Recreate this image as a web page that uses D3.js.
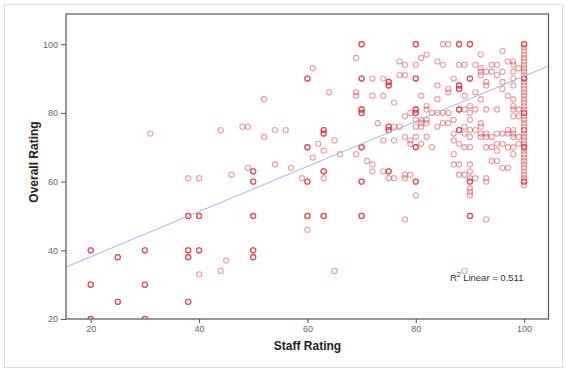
<!DOCTYPE html>
<html>
<head>
<meta charset="utf-8">
<script src="https://cdn.jsdelivr.net/npm/d3@7"></script>
<style>
  body { margin: 0; background: #fff; }
  svg { display: block; font-family: "Liberation Sans", Arial, sans-serif; }
</style>
</head>
<body>
<svg id="chart" width="567" height="372"></svg>
<script>
// tick values on both axes
var xTicks = [20, 40, 60, 80, 100];
var yTicks = [20, 40, 60, 80, 100];

// [staff rating, overall rating, how many respondents on that spot]
var responses = [
    [20,40,3],[20,30,3],[20,20,3],
    [25,38,3],[25,25,3],
    [30,40,3],[30,30,3],[30,20,3],[31,74,1],
    [38,61,1],[38,50,3],[38,40,3],[38,38,3],[38,25,3],
    [40,61,1],[40,50,3],[40,40,3],[40,33,1],
    [44,75,1],[44,34,1],[45,37,1],[46,62,1],[48,76,1],[49,76,1],[49,64,1],
    [50,63,3],[50,60,3],[50,50,3],[50,40,3],[50,38,3],
    [52,84,1],[52,73,1],[54,75,1],[54,65,1],[56,75,1],[57,64,1],[59,61,1],
    [60,90,3],[60,70,3],[60,60,3],[60,50,3],[60,46,1],
    [61,93,1],[61,67,1],[62,71,1],
    [63,75,3],[63,74,3],[63,69,1],[63,63,3],[63,61,1],[63,50,3],
    [64,86,1],[65,72,1],[65,34,1],[66,68,1],[69,68,1],[69,96,1],[69,86,1],[69,85,1],
    [70,100,3],[70,90,3],[70,81,3],[70,80,3],[70,70,3],[70,60,3],[70,50,3],
    [71,66,1],[72,65,1],[72,90,1],[74,90,1],[72,85,1],[74,85,1],[73,77,1],[74,72,1],
    [76,72,1],[72,63,1],[74,63,1],
    [75,89,3],[75,88,3],[75,76,3],[75,75,3],[75,63,3],[75,61,1],[76,61,1],[76,83,1],
    [77,95,1],[77,91,1],[78,91,1],[78,94,1],[76,76,1],[77,76,1],[78,79,1],[79,80,1],
    [78,73,1],[79,72,1],[79,71,1],[78,62,1],[79,62,1],[78,61,1],[78,49,1],
    [80,100,3],[80,94,1],[80,90,3],[80,81,3],[80,80,3],[80,78,1],[80,76,1],[80,73,1],
    [80,70,3],[80,60,3],[80,56,1],
    [81,96,1],[82,97,1],[81,85,1],[82,82,1],[82,81,1],[81,78,1],[82,78,1],[81,77,1],
    [82,77,1],[81,76,1],[81,71,1],[82,73,1],[83,80,1],[84,80,1],[83,70,1],
    [84,95,1],[85,94,1],[84,88,1],[84,84,1],[85,77,1],[86,77,1],[84,76,1],[85,80,1],[86,80,1],
    [85,100,1],[86,100,1],[86,87,1],[86,86,1],[87,90,1],[87,78,1],[87,74,1],[87,72,1],
    [87,68,1],[87,65,1],
    [88,100,3],[88,94,1],[89,94,1],[88,88,3],[88,87,3],[89,85,1],[88,81,3],[89,81,1],
    [88,75,3],[89,76,1],[89,74,1],[88,71,1],[89,70,1],[88,65,1],[88,62,1],[89,62,1],[89,34,1],
    [90,100,3],[90,90,3],[90,82,1],[90,80,1],[90,75,1],[90,70,1],[90,65,1],[90,63,1],
    [90,61,1],[90,60,3],[90,58,1],[90,57,1],[90,56,1],[90,50,3],
    [91,86,1],[91,81,1],[91,61,1],[92,97,1],[92,84,1],[91,94,1],[92,93,1],[92,92,1],[92,91,1],
    [93,92,1],[93,89,1],[93,88,1],[93,81,1],[93,61,1],[93,60,1],[93,49,1],[94,94,1],[95,94,1],
    [94,92,1],[95,91,1],[94,66,1],[95,66,1],
    [96,98,1],[96,92,1],[96,89,1],[96,87,1],[96,64,1],[97,64,1],[97,95,1],[98,95,1],[98,94,1],
    [99,93,1],[98,92,1],[98,90,1],[98,88,1],[97,85,1],[98,84,1],[95,81,1],[98,82,1],[98,81,1],
    [99,81,1],[99,79,1],[98,79,1],
    [90,78,1],[92,77,1],[92,76,1],[91,75,1],[92,74,1],[93,74,1],[90,73,1],[92,73,1],
    [93,73,1],[94,73,1],[95,74,1],[96,74,1],[97,74,1],[98,74,1],[99,73,1],[98,73,1],
    [97,75,1],[98,75,1],
    [93,70,1],[94,70,1],[95,71,1],[95,69,1],[96,71,1],[97,70,1],[98,70,1],[98,68,1],[99,71,1]
];

// the full-marks staff column (staff = 100), overall ratings stacked
var fullStaffOverall = [100,99,98,97,96,95,94,93,92,91,90,89,88,87,86,85,84,83,82,81,80,
    79,78,77,76,75,74,73,72,71,70,69,68,67,66,65,64,63,62,61,60,59];
// spots in that column with several respondents
var fullStaffRepeats = [100, 100, 90, 90, 80, 80, 75, 70, 70, 60, 60];

// fit line as printed by the stats package
var fitIntercept = 25.0;
var fitSlope = 0.657;
var rSquared = '0.511';

var svg = d3.select('#chart');

// outer border of the output panel
svg.append('rect')
    .attr('x', 4.5).attr('y', 4.5)
    .attr('width', 558).attr('height', 363)
    .attr('fill', 'none')
    .attr('stroke', '#dcdcdc');

var plotL = 66, plotR = 548.5, plotT = 14, plotB = 319;
var xDomain = [15.44, 104.5];
var yDomain = [20, 108.8];

var x = d3.scaleLinear().domain(xDomain).range([plotL, plotR]);
var y = d3.scaleLinear().domain(yDomain).range([plotB, plotT]);

svg.append('clipPath').attr('id', 'clip')
    .append('rect')
    .attr('x', plotL).attr('y', plotT)
    .attr('width', plotR - plotL).attr('height', plotB - plotT);

var plot = svg.append('g').attr('clip-path', 'url(#clip)');

// spread the counts out into one circle per respondent
var dots = [];
responses.forEach(function(d) {
    for (var k = 0; k < d[2]; k++) dots.push([d[0], d[1]]);
});
fullStaffOverall.concat(fullStaffRepeats).forEach(function(v) {
    dots.push([100, v]);
});

plot.selectAll('.dot')
    .data(dots)
    .enter()
    .append('circle')
    .attr('class', 'dot')
    .attr('cx', function(d) { return x(d[0]); })
    .attr('cy', function(d) { return y(d[1]); })
    .attr('r', 2.6)
    .attr('fill', 'none')
    .attr('stroke', '#d8242c')
    .attr('stroke-opacity', 0.45)
    .attr('stroke-width', 1.1);

// regression line
plot.append('line')
    .attr('x1', x(xDomain[0]))
    .attr('y1', y(fitIntercept + fitSlope * xDomain[0]))
    .attr('x2', x(xDomain[1]))
    .attr('y2', y(fitIntercept + fitSlope * xDomain[1]))
    .attr('stroke', '#a3b1f7')
    .attr('stroke-width', 1);

// axes
var xAxis = svg.append('g')
    .attr('transform', 'translate(0,' + plotB + ')')
    .call(d3.axisBottom(x).tickValues(xTicks).tickSize(4).tickSizeOuter(0).tickPadding(3));
var yAxis = svg.append('g')
    .attr('transform', 'translate(' + plotL + ',0)')
    .call(d3.axisLeft(y).tickValues(yTicks).tickSize(5).tickSizeOuter(0).tickPadding(3));

[xAxis, yAxis].forEach(function(a) {
    a.select('.domain').remove();
    a.selectAll('line').attr('stroke', '#555');
    a.selectAll('text')
        .attr('fill', '#666')
        .style('font-size', '9px')
        .style('font-family', '"Liberation Sans", Arial, sans-serif');
});

// plot frame
svg.append('rect')
    .attr('x', plotL).attr('y', plotT)
    .attr('width', plotR - plotL).attr('height', plotB - plotT)
    .attr('fill', 'none')
    .attr('stroke', '#555')
    .attr('stroke-width', 1.2);

// axis titles
svg.append('text')
    .attr('x', 307.5).attr('y', 350)
    .attr('text-anchor', 'middle')
    .attr('font-size', '12px')
    .attr('font-weight', 'bold')
    .attr('fill', '#222')
    .text('Staff Rating');

svg.append('text')
    .attr('transform', 'translate(38,162) rotate(-90)')
    .attr('text-anchor', 'middle')
    .attr('font-size', '12px')
    .attr('font-weight', 'bold')
    .attr('fill', '#222')
    .text('Overall Rating');

// R squared note
var note = svg.append('text')
    .attr('x', 450).attr('y', 280.5)
    .attr('font-size', '9.5px')
    .attr('fill', '#333');
note.append('tspan').text('R');
note.append('tspan').attr('dy', -3.5).attr('font-size', '6.5px').text('2');
note.append('tspan').attr('dy', 3.5).text(' Linear = ' + rSquared);
</script>
</body>
</html>
